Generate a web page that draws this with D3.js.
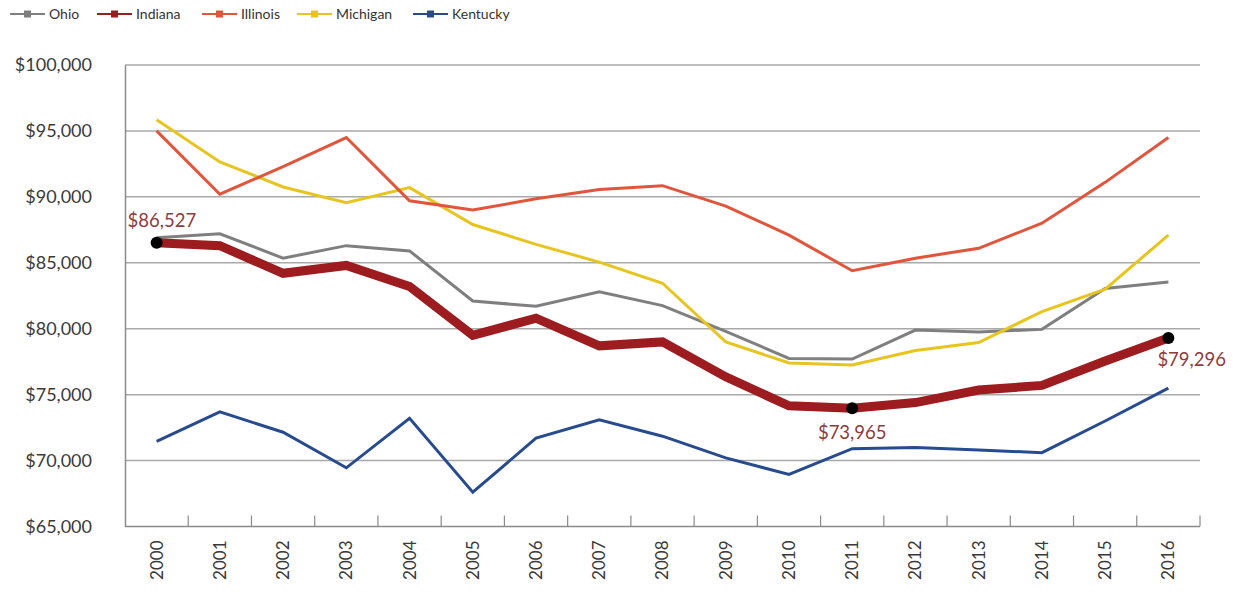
<!DOCTYPE html>
<html><head><meta charset="utf-8">
<script src="https://cdn.jsdelivr.net/npm/d3@7"></script>
<style>body{margin:0;background:#fff;} svg{display:block;font-family:Lato,"Open Sans",sans-serif;}</style>
</head><body>
<svg id="c" width="1233" height="594"></svg>
<script>
const years = ["2000","2001","2002","2003","2004","2005","2006","2007","2008","2009","2010","2011","2012","2013","2014","2015","2016"];
const ohio     = [86900,87200,85350,86300,85900,82100,81700,82800,81750,79800,77750,77700,79900,79750,79950,83050,83550];
const indiana  = [86527,86300,84200,84800,83200,79500,80800,78700,79000,76350,74150,73965,74400,75350,75700,77550,79296];
const illinois = [95000,90200,92300,94500,89700,89000,89850,90550,90850,89300,87100,84400,85350,86100,88000,91100,94500];
const michigan = [95850,92650,90750,89550,90700,87900,86400,85050,83450,79000,77400,77250,78350,78950,81300,83000,87100];
const kentucky = [71450,73700,72150,69450,73200,67600,71700,73100,71850,70200,68950,70900,71000,70800,70600,73000,75500];
const yTicks = [65000,70000,75000,80000,85000,90000,95000,100000];
const seriesNames = ["Ohio","Indiana","Illinois","Michigan","Kentucky"];
const seriesColors = ["#7f7f7f","#9c1c1f","#e0553b","#e8c41f","#274b8e"];
const seriesWidths = [3,9,3,3,3];
const callouts = [{year:"2000",value:86527},{year:"2011",value:73965},{year:"2016",value:79296}];

const svg = d3.select("#c");
const L=125, R=1200, T=65, B=526.5;
const x = d3.scaleBand().domain(years).range([L,R]);
const y = d3.scaleLinear().domain([65000,100000]).range([B,T]);
const cx = d => x(d)+x.bandwidth()/2;
const fmt = v => "$"+d3.format(",")(v);

// gridlines
svg.append("g").selectAll("line").data(yTicks.slice(1)).join("line")
  .attr("x1",L).attr("x2",R).attr("y1",d=>y(d)).attr("y2",d=>y(d))
  .attr("stroke","#a9a9a9").attr("stroke-width",1.5);

// y axis
const yAx = svg.append("g").attr("transform",`translate(${L},0)`)
  .call(d3.axisLeft(y).tickValues(yTicks).tickSize(0).tickPadding(33).tickFormat(fmt));
yAx.select(".domain").attr("stroke","#8a8a8a").attr("stroke-width",1.5);
yAx.selectAll("text").attr("font-size",18).attr("fill","#3a3a3a").attr("font-family","Lato,sans-serif");

// x axis
const xAx = svg.append("g").attr("transform",`translate(0,${B})`)
  .call(d3.axisBottom(x).tickSize(0).tickPadding(0));
xAx.select(".domain").remove();
svg.append("line").attr("x1",L).attr("x2",R).attr("y1",B).attr("y2",B).attr("stroke","#8a8a8a").attr("stroke-width",1.5);
const bounds = years.slice(1).map(d=>x(d)).concat([R]);
svg.append("g").selectAll("line").data(bounds).join("line")
  .attr("x1",d=>d).attr("x2",d=>d).attr("y1",B-11).attr("y2",B)
  .attr("stroke","#8a8a8a").attr("stroke-width",1.2);
xAx.selectAll("text")
  .each(function(d){
    d3.select(this).attr("x",0).attr("y",0).attr("dy","0.35em")
      .attr("text-anchor","end")
      .attr("transform",`translate(${x.bandwidth()/2},14) rotate(-90)`);
  })
  .attr("font-size",17).attr("fill","#3a3a3a").attr("font-family","Lato,sans-serif");
xAx.selectAll(".tick").attr("transform",d=>`translate(${x(d)},0)`);

// lines
const data = [ohio,indiana,illinois,michigan,kentucky];
const line = d3.line().x((d,i)=>cx(years[i])).y(d=>y(d));
const order = [4,0,3,2,1];
svg.append("g").selectAll("path").data(order).join("path")
  .attr("d",i=>line(data[i])).attr("fill","none")
  .attr("stroke",i=>seriesColors[i]).attr("stroke-width",i=>seriesWidths[i])
  .attr("stroke-linejoin","miter").attr("stroke-linecap","butt");

// callouts
svg.append("g").selectAll("circle").data(callouts).join("circle")
  .attr("cx",d=>cx(d.year)).attr("cy",d=>y(d.value)).attr("r",6).attr("fill","#000");
const lab = svg.append("g").attr("font-size",18.5).attr("fill","#8e3b3f").attr("font-family","Lato,sans-serif");
lab.append("text").attr("x",cx(callouts[0].year)-29).attr("y",y(callouts[0].value)-16).text(fmt(callouts[0].value));
lab.append("text").attr("x",cx(callouts[1].year)).attr("y",y(callouts[1].value)+31).attr("text-anchor","middle").text(fmt(callouts[1].value));
lab.append("text").attr("x",cx(callouts[2].year)-11).attr("y",y(callouts[2].value)+28).text(fmt(callouts[2].value));

// legend
const legX = [10,97,202,297,413];
const lg = svg.append("g").selectAll("g").data(seriesNames).join("g")
  .attr("transform",(d,i)=>`translate(${legX[i]},14)`);
lg.append("line").attr("x1",0).attr("x2",35).attr("stroke",(d,i)=>seriesColors[i]).attr("stroke-width",2);
lg.append("rect").attr("x",14).attr("y",-3.5).attr("width",7).attr("height",7).attr("fill",(d,i)=>seriesColors[i]);
lg.append("text").attr("x",39).attr("dy","0.35em").attr("font-size",14).attr("fill","#333").text(d=>d);
</script>
</body></html>
